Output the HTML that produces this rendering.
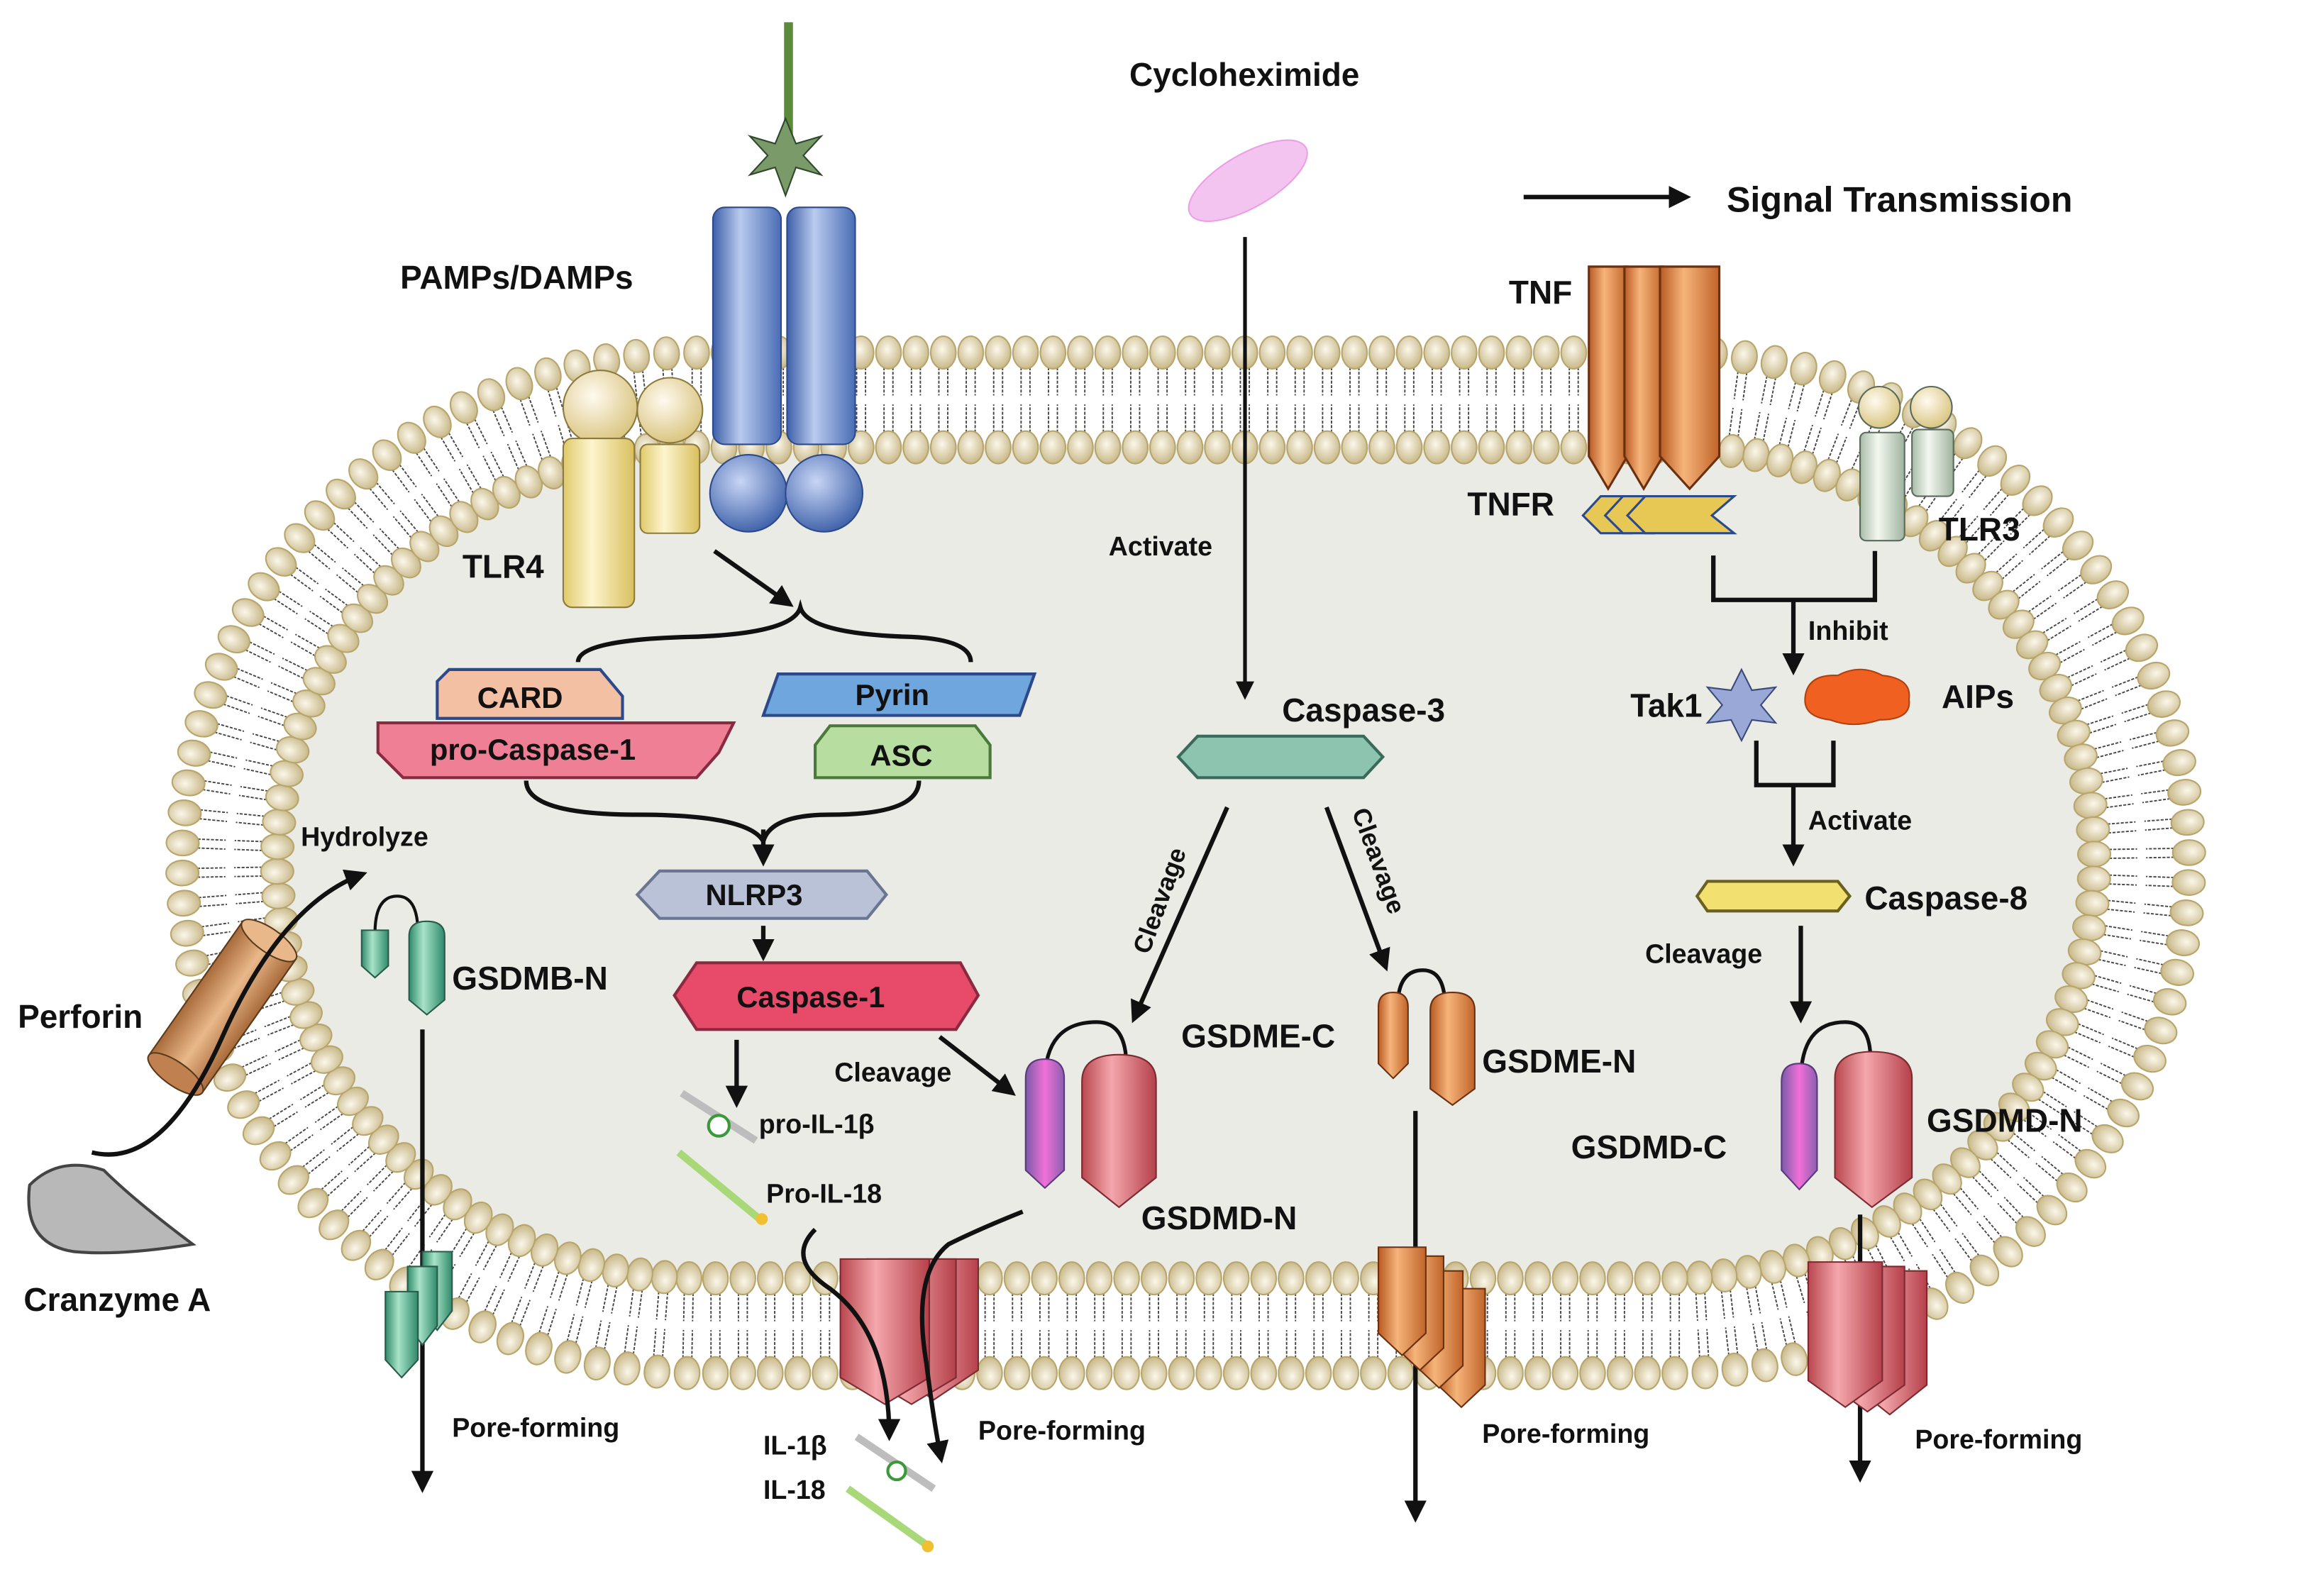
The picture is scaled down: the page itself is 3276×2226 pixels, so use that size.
<!DOCTYPE html>
<html><head><meta charset="utf-8">
<style>
html,body{margin:0;padding:0;background:#fff;}
svg{display:block;}
text{font-family:"Liberation Sans",Arial,sans-serif;font-weight:bold;fill:#111;}
</style></head>
<body>
<svg id="s" width="3276" height="2226" viewBox="0 0 1568 1066" preserveAspectRatio="none" xmlns="http://www.w3.org/2000/svg">
<defs>
<radialGradient id="head" cx="0.45" cy="0.4" r="0.6"><stop offset="0" stop-color="#fbf7ea"/><stop offset="1" stop-color="#c9b98a"/></radialGradient>
<linearGradient id="blue" x1="0" x2="1"><stop offset="0" stop-color="#3d5fa8"/><stop offset="0.4" stop-color="#b9cbee"/><stop offset="1" stop-color="#4a6cb5"/></linearGradient>
<radialGradient id="blueb" cx="0.4" cy="0.35" r="0.7"><stop offset="0" stop-color="#c8d6f5"/><stop offset="1" stop-color="#3b5ea8"/></radialGradient>
<linearGradient id="yel" x1="0" x2="1"><stop offset="0" stop-color="#e0c96a"/><stop offset="0.4" stop-color="#fdf5cf"/><stop offset="1" stop-color="#d9bf5d"/></linearGradient>
<radialGradient id="yelb" cx="0.4" cy="0.35" r="0.7"><stop offset="0" stop-color="#fffaf0"/><stop offset="1" stop-color="#d8c27a"/></radialGradient>
<linearGradient id="red" x1="0" x2="1"><stop offset="0" stop-color="#b9474f"/><stop offset="0.4" stop-color="#f4a7ac"/><stop offset="1" stop-color="#b5404a"/></linearGradient>
<linearGradient id="purp" x1="0" x2="1"><stop offset="0" stop-color="#7a5aa8"/><stop offset="0.5" stop-color="#f070d8"/><stop offset="1" stop-color="#8b5fb0"/></linearGradient>
<linearGradient id="org" x1="0" x2="1"><stop offset="0" stop-color="#b85a22"/><stop offset="0.4" stop-color="#f6b47a"/><stop offset="1" stop-color="#c0642a"/></linearGradient>
<linearGradient id="grn" x1="0" x2="1"><stop offset="0" stop-color="#2f8a6a"/><stop offset="0.4" stop-color="#a8e3c9"/><stop offset="1" stop-color="#2f8a6a"/></linearGradient>
<linearGradient id="tlr3" x1="0" x2="1"><stop offset="0" stop-color="#a9bba9"/><stop offset="0.4" stop-color="#f3f8f0"/><stop offset="1" stop-color="#9fb39f"/></linearGradient>
<linearGradient id="cyl" x1="0" x2="1"><stop offset="0" stop-color="#a86a3a"/><stop offset="0.5" stop-color="#e9b88a"/><stop offset="1" stop-color="#a86a3a"/></linearGradient>
<marker id="ar" viewBox="0 0 10 10" refX="8" refY="5" markerWidth="5" markerHeight="5" orient="auto"><path d="M0,0L10,5L0,10z" fill="#111"/></marker>
</defs>
<path id="inner" d="M475,300 H1125 A290,280 0 0 1 1415,580 A290,280 0 0 1 1125,860 H475 A290,280 0 0 1 185,580 A290,280 0 0 1 475,300Z" fill="#ebebe6"/>
<g id="mem"></g>

<!-- legend -->
<line x1="1028" y1="133" x2="1138" y2="133" stroke="#111" stroke-width="3" marker-end="url(#ar)"/>
<text x="1165" y="143" font-size="24">Signal Transmission</text>

<!-- Cycloheximide -->
<text x="762" y="58" font-size="22">Cycloheximide</text>
<ellipse cx="842" cy="122" rx="45" ry="18" transform="rotate(-30 842 122)" fill="#f4c4f0" stroke="#e9a0e4"/>
<line x1="840" y1="160" x2="840" y2="470" stroke="#111" stroke-width="2.5" marker-end="url(#ar)"/>
<text x="748" y="375" font-size="18" font-weight="normal">Activate</text>

<!-- TLR4 + receptor -->
<line x1="532" y1="15" x2="532" y2="95" stroke="#5a8a3a" stroke-width="6"/>
<polygon points="530,80 537,97 554,92 542,105 554,118 537,113 530,132 523,113 506,118 518,105 506,92 523,97" fill="#7a9a6a" stroke="#2f4a2a"/>
<rect x="481" y="140" width="46" height="160" rx="8" fill="url(#blue)" stroke="#2c4a8a"/>
<rect x="531" y="140" width="46" height="160" rx="8" fill="url(#blue)" stroke="#2c4a8a"/>
<circle cx="505" cy="333" r="26" fill="url(#blueb)" stroke="#2c4a8a"/>
<circle cx="556" cy="333" r="26" fill="url(#blueb)" stroke="#2c4a8a"/>
<circle cx="405" cy="275" r="25" fill="url(#yelb)" stroke="#8a7a40"/>
<circle cx="452" cy="277" r="22" fill="url(#yelb)" stroke="#8a7a40"/>
<rect x="380" y="296" width="48" height="114" rx="6" fill="url(#yel)" stroke="#8a7a40"/>
<rect x="432" y="300" width="40" height="60" rx="5" fill="url(#yel)" stroke="#8a7a40"/>
<text x="270" y="195" font-size="22">PAMPs/DAMPs</text>
<text x="312" y="390" font-size="22">TLR4</text>
<line x1="482" y1="372" x2="533" y2="408" stroke="#111" stroke-width="3" marker-end="url(#ar)"/>
<path d="M390,447 Q390,432 465,430 Q535,428 540,410 Q545,428 615,430 Q655,432 655,447" fill="none" stroke="#111" stroke-width="3"/>

<!-- CARD / pro-caspase / Pyrin / ASC -->
<path d="M303,452 H405 L420,470 V485 H295 V460Z" fill="#f4c0a4" stroke="#2c4a8a" stroke-width="2"/>
<text x="322" y="478" font-size="20" font-weight="normal">CARD</text>
<path d="M255,488 H495 L485,508 L470,525 H272 L255,508Z" fill="#ee7f95" stroke="#8a2a40" stroke-width="2"/>
<text x="290" y="513" font-size="20" font-weight="normal">pro-Caspase-1</text>
<path d="M525,455 H698 L688,483 H515Z" fill="#6ea6dd" stroke="#2c4a8a" stroke-width="2"/>
<text x="577" y="476" font-size="20" font-weight="normal">Pyrin</text>
<path d="M560,490 H658 L668,503 V525 H550 V503Z" fill="#b7dea0" stroke="#4a7a3a" stroke-width="2"/>
<text x="587" y="517" font-size="20" font-weight="normal">ASC</text>
<path d="M355,527 Q355,550 430,550 Q505,550 515,568 M620,527 Q620,550 560,550 Q520,550 515,568" fill="none" stroke="#111" stroke-width="3"/>
<line x1="515" y1="560" x2="515" y2="582" stroke="#111" stroke-width="3" marker-end="url(#ar)"/>
<path d="M445,588 H585 L598,604 L585,620 H445 L430,604Z" fill="#b9c2d6" stroke="#6a7590" stroke-width="2"/>
<text x="476" y="611" font-size="20" font-weight="normal">NLRP3</text>
<line x1="515" y1="625" x2="515" y2="646" stroke="#111" stroke-width="3" marker-end="url(#ar)"/>
<path d="M470,650 H648 L660,672 L645,695 H470 L455,672Z" fill="#e84a6a" stroke="#8a2a40" stroke-width="2"/>
<text x="497" y="680" font-size="20" font-weight="normal">Caspase-1</text>
<line x1="497" y1="702" x2="497" y2="745" stroke="#111" stroke-width="3" marker-end="url(#ar)"/>
<line x1="634" y1="700" x2="683" y2="738" stroke="#111" stroke-width="3" marker-end="url(#ar)"/>
<text x="563" y="730" font-size="18" font-weight="normal">Cleavage</text>
<line x1="460" y1="738" x2="510" y2="770" stroke="#bdbdbd" stroke-width="5"/>
<circle cx="485" cy="760" r="7" fill="#fff" stroke="#3a9a3a" stroke-width="2"/>
<line x1="458" y1="778" x2="515" y2="825" stroke="#a8d878" stroke-width="5"/>
<circle cx="514" cy="823" r="4" fill="#f0c030"/>
<text x="512" y="765" font-size="18" font-weight="normal">pro-IL-1β</text>
<text x="517" y="812" font-size="18" font-weight="normal">Pro-IL-18</text>

<!-- GSDMD middle -->
<path d="M705,730 Q705,690 740,690 Q760,690 760,720" fill="none" stroke="#111" stroke-width="2.5"/>
<path d="M692,728 Q692,715 705,715 Q718,715 718,728 V790 L705,802 L692,790Z" fill="url(#purp)" stroke="#5a3a7a"/>
<path d="M730,730 Q730,712 755,712 Q780,712 780,730 V795 L755,815 L730,795Z" fill="url(#red)" stroke="#7a2a30"/>
<text x="770" y="830" font-size="22">GSDMD-N</text>

<!-- Perforin / Granzyme -->
<text x="203" y="571" font-size="18" font-weight="normal">Hydrolyze</text>
<g transform="rotate(35 150 680)">
<rect x="128" y="625" width="44" height="110" fill="url(#cyl)" stroke="#5a3a1a"/>
<ellipse cx="150" cy="625" rx="22" ry="8" fill="#e9b88a" stroke="#5a3a1a"/>
<ellipse cx="150" cy="735" rx="22" ry="8" fill="#c08050" stroke="#5a3a1a"/>
</g>
<path d="M62,778 Q110,790 150,700 Q190,610 245,590" fill="none" stroke="#111" stroke-width="3" marker-end="url(#ar)"/>
<text x="12" y="694" font-size="22">Perforin</text>
<path d="M20,800 Q40,780 70,790 Q90,810 130,840 Q80,848 50,845 Q15,840 20,800Z" fill="#b8b8b8" stroke="#444" stroke-width="2"/>
<text x="16" y="885" font-size="22">Cranzyme A</text>

<!-- GSDMB -->
<path d="M253,630 Q253,605 268,605 Q282,605 282,630" fill="none" stroke="#111" stroke-width="2"/>
<path d="M244,628 H262 V652 L253,660 L244,652Z" fill="url(#grn)" stroke="#2a5a4a"/>
<path d="M276,632 Q276,622 288,622 Q300,622 300,632 V675 L288,685 L276,675Z" fill="url(#grn)" stroke="#2a5a4a"/>
<text x="305" y="668" font-size="22">GSDMB-N</text>
<line x1="285" y1="695" x2="285" y2="1005" stroke="#111" stroke-width="3" marker-end="url(#ar)"/>

<!-- Caspase-3 -->
<text x="865" y="487" font-size="22">Caspase-3</text>
<path d="M808,497 H920 L933,511 L920,525 H808 L795,511Z" fill="#8cc4b0" stroke="#3a6a5a" stroke-width="2"/>
<line x1="828" y1="545" x2="765" y2="688" stroke="#111" stroke-width="3" marker-end="url(#ar)"/>
<line x1="895" y1="545" x2="935" y2="653" stroke="#111" stroke-width="3" marker-end="url(#ar)"/>
<text x="0" y="0" font-size="17" font-weight="normal" transform="translate(775,645) rotate(-70)">Cleavage</text>
<text x="0" y="0" font-size="17" font-weight="normal" transform="translate(912,548) rotate(70)">Cleavage</text>
<path d="M943,680 Q943,655 960,655 Q975,655 975,680" fill="none" stroke="#111" stroke-width="2.5"/>
<path d="M930,680 Q930,670 940,670 Q950,670 950,680 V718 L940,728 L930,718Z" fill="url(#org)" stroke="#6a3010"/>
<path d="M965,682 Q965,670 980,670 Q995,670 995,682 V735 L980,746 L965,735Z" fill="url(#org)" stroke="#6a3010"/>
<text x="797" y="707" font-size="22">GSDME-C</text>
<text x="1000" y="724" font-size="22">GSDME-N</text>
<line x1="955" y1="750" x2="955" y2="1025" stroke="#111" stroke-width="3" marker-end="url(#ar)"/>

<!-- TNF -->
<text x="1018" y="205" font-size="22">TNF</text>
<g fill="url(#org)" stroke="#6a3010" stroke-width="1.5">
<path d="M1072,180 H1098 V308 L1085,330 L1072,308Z"/>
<path d="M1096,180 H1122 V308 L1109,330 L1096,308Z"/>
<path d="M1120,180 H1160 V308 L1140,330 L1120,308Z"/>
</g>
<g fill="#e8c855" stroke="#2c4a8a" stroke-width="1.5">
<path d="M1080,335 H1100 L1090,348 L1100,360 H1080 L1068,348Z"/>
<path d="M1095,335 H1115 L1105,348 L1115,360 H1095 L1083,348Z"/>
<path d="M1110,335 H1170 L1155,348 L1170,360 H1110 L1098,348Z"/>
</g>
<text x="990" y="348" font-size="22">TNFR</text>
<!-- TLR3 -->
<circle cx="1268" cy="275" r="14" fill="url(#yelb)" stroke="#5a6a5a"/>
<circle cx="1303" cy="275" r="14" fill="url(#yelb)" stroke="#5a6a5a"/>
<rect x="1255" y="292" width="30" height="73" rx="4" fill="url(#tlr3)" stroke="#5a6a5a"/>
<rect x="1290" y="290" width="28" height="45" rx="4" fill="url(#tlr3)" stroke="#5a6a5a"/>
<text x="1308" y="365" font-size="22">TLR3</text>
<path d="M1156,375 V405 H1265 V372" fill="none" stroke="#111" stroke-width="3"/>
<line x1="1210" y1="405" x2="1210" y2="453" stroke="#111" stroke-width="3" marker-end="url(#ar)"/>
<text x="1220" y="432" font-size="18" font-weight="normal">Inhibit</text>
<polygon points="1175,452 1182,466 1198,464 1188,476 1198,488 1182,486 1175,500 1168,486 1152,488 1162,476 1152,464 1168,466" fill="#9aa8d8" stroke="#3a4a7a"/>
<text x="1100" y="484" font-size="22">Tak1</text>
<path d="M1218,470 Q1220,455 1240,456 Q1255,448 1270,456 Q1290,458 1288,472 Q1290,486 1268,486 Q1250,492 1235,486 Q1216,484 1218,470Z" fill="#f06020" stroke="#b04010"/>
<text x="1310" y="478" font-size="22">AIPs</text>
<path d="M1185,500 V530 H1237 V500" fill="none" stroke="#111" stroke-width="3"/>
<line x1="1210" y1="530" x2="1210" y2="582" stroke="#111" stroke-width="3" marker-end="url(#ar)"/>
<text x="1220" y="560" font-size="18" font-weight="normal">Activate</text>
<path d="M1152,595 H1240 L1248,605 L1240,615 H1152 L1145,605Z" fill="#f2e070" stroke="#6a6020" stroke-width="2"/>
<text x="1258" y="614" font-size="22">Caspase-8</text>
<text x="1110" y="650" font-size="18" font-weight="normal">Cleavage</text>
<line x1="1215" y1="625" x2="1215" y2="688" stroke="#111" stroke-width="3" marker-end="url(#ar)"/>
<path d="M1215,730 Q1215,690 1245,690 Q1262,690 1262,715" fill="none" stroke="#111" stroke-width="2.5"/>
<path d="M1202,730 Q1202,718 1214,718 Q1226,718 1226,730 V790 L1214,803 L1202,790Z" fill="url(#purp)" stroke="#5a3a7a"/>
<path d="M1238,728 Q1238,710 1263,710 Q1290,710 1290,728 V795 L1263,815 L1238,795Z" fill="url(#red)" stroke="#7a2a30"/>
<text x="1060" y="782" font-size="22">GSDMD-C</text>
<text x="1300" y="764" font-size="22">GSDMD-N</text>
<line x1="1255" y1="820" x2="1255" y2="998" stroke="#111" stroke-width="3" marker-end="url(#ar)"/>

<!-- pores -->
<g stroke="#2a5a4a" fill="url(#grn)">
<path d="M285,845 H305 V885 L295,898 L285,885Z"/>
<path d="M275,855 H295 V895 L285,908 L275,895Z"/>
<path d="M260,872 H282 V918 L271,930 L260,918Z"/>
</g>
<g stroke="#7a2a30" fill="url(#red)">
<path d="M600,850 H660 V925 L630,945 L600,925Z"/>
<path d="M585,850 H645 V930 L615,948 L585,930Z"/>
<path d="M567,850 H627 V930 L597,948 L567,930Z"/>
</g>
<g stroke="#6a3010" fill="url(#org)">
<path d="M970,870 H1002 V935 L986,950 L970,935Z"/>
<path d="M955,858 H987 V922 L971,937 L955,922Z"/>
<path d="M942,848 H974 V910 L958,925 L942,910Z"/>
<path d="M930,842 H962 V900 L946,915 L930,900Z"/>
</g>
<g stroke="#7a2a30" fill="url(#red)">
<path d="M1250,858 H1300 V935 L1275,955 L1250,935Z"/>
<path d="M1235,855 H1285 V935 L1260,953 L1235,935Z"/>
<path d="M1220,852 H1270 V932 L1245,950 L1220,932Z"/>
</g>
<path d="M550,830 Q530,850 560,870 Q600,900 600,970" fill="none" stroke="#111" stroke-width="3" marker-end="url(#ar)"/>
<path d="M690,818 Q660,830 640,840 Q615,860 625,920 Q630,960 635,985" fill="none" stroke="#111" stroke-width="3" marker-end="url(#ar)"/>
<text x="305" y="970" font-size="18" font-weight="normal">Pore-forming</text>
<text x="660" y="972" font-size="18" font-weight="normal">Pore-forming</text>
<text x="1000" y="974" font-size="18" font-weight="normal">Pore-forming</text>
<text x="1292" y="978" font-size="18" font-weight="normal">Pore-forming</text>
<line x1="578" y1="970" x2="630" y2="1005" stroke="#bdbdbd" stroke-width="5"/>
<circle cx="605" cy="993" r="6" fill="#fff" stroke="#3a9a3a" stroke-width="2"/>
<line x1="572" y1="1005" x2="628" y2="1045" stroke="#a8d878" stroke-width="5"/>
<circle cx="626" cy="1044" r="4" fill="#f0c030"/>
<text x="515" y="982" font-size="18" font-weight="normal">IL-1β</text>
<text x="515" y="1012" font-size="18" font-weight="normal">IL-18</text>
</svg>
<script>
(function(){
var NS="http://www.w3.org/2000/svg";
var g=document.getElementById("mem");
var p=document.createElementNS(NS,"path");
p.setAttribute("d","M470,270 H1130 A315,312 0 0 1 1445,582 A315,312 0 0 1 1130,895 H470 A315,312 0 0 1 155,582 A315,312 0 0 1 470,270Z");
p.setAttribute("fill","none");
document.getElementById("s").insertBefore(p,g);
var L=p.getTotalLength(),n=Math.round(L/18.5),tails="",heads="";
for(var i=0;i<n;i++){
 var l=i*L/n,a=p.getPointAtLength(l),b=p.getPointAtLength((l+1)%L);
 var tx=b.x-a.x,ty=b.y-a.y,m=Math.hypot(tx,ty);tx/=m;ty/=m;
 var nx=ty,ny=-tx; // outward for clockwise path
 var ang=Math.atan2(ty,tx)*180/Math.PI;
 [-1,1].forEach(function(sg){
  var hx=a.x+nx*sg*32,hy=a.y+ny*sg*32;
  [-3,3].forEach(function(o){
   var x1=hx-nx*sg*10+tx*o,y1=hy-ny*sg*10+ty*o,x2=a.x+nx*sg*3+tx*o,y2=a.y+ny*sg*3+ty*o;
   tails+='<line x1="'+x1+'" y1="'+y1+'" x2="'+x2+'" y2="'+y2+'" stroke="#444" stroke-width="0.9" stroke-dasharray="2,1"/>';
  });
  heads+='<ellipse cx="'+hx+'" cy="'+hy+'" rx="8.5" ry="11" transform="rotate('+ang+' '+hx+' '+hy+')" fill="url(#head)" stroke="#b8a56c" stroke-width="1"/>';
 });
}
g.innerHTML=tails+heads;
})();
</script>
</body></html>
